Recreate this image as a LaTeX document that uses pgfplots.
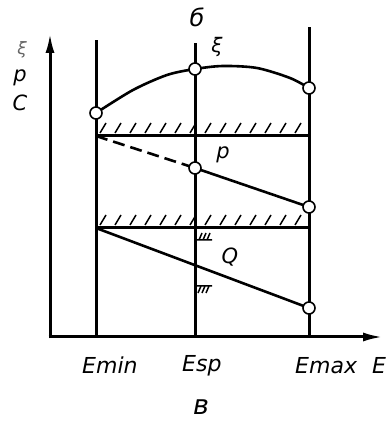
\documentclass[border=0pt]{standalone}
\usepackage{fontspec}
\setmainfont{DejaVu Sans}
\usepackage{pgfplots}
\pgfplotsset{compat=1.18}
\usetikzlibrary{arrows.meta}
\begin{document}
\begin{tikzpicture}
\begin{axis}[hide axis, scale only axis, width=390pt, height=425pt,
  xmin=0, xmax=390, ymin=0, ymax=425, clip=false, unbounded coords=jump]
\addplot[draw=none] coordinates {(0,0) (390,425)};
% axes
\addplot[line width=3pt, -{Latex[length=20pt,width=9pt]}] coordinates {(50,86.5) (50,392)};
\addplot[line width=3pt, -{Latex[length=20pt,width=9pt]}] coordinates {(48.5,88) (383,88)};
% verticals
\addplot[line width=3pt] coordinates {(96,88) (96,385)};
\addplot[line width=3pt] coordinates {(195,88) (195,382)};
\addplot[line width=3pt] coordinates {(309,88) (309,398)};
% horizontals
\addplot[line width=3pt] coordinates {(96,289) (309,289)};
\addplot[line width=3pt] coordinates {(96,197) (309,197)};
% hatches
\addplot[line width=1.5pt] coordinates {
(100,292)(106,302)(0,nan)(115,292)(121,302)(0,nan)(130,292)(136,302)(0,nan)
(145,292)(151,302)(0,nan)(160,292)(166,302)(0,nan)(175,292)(181,302)(0,nan)
(190,292)(196,302)(0,nan)(205,292)(211,302)(0,nan)(220,292)(226,302)(0,nan)
(235,292)(241,302)(0,nan)(250,292)(256,302)(0,nan)(265,292)(271,302)(0,nan)
(280,292)(286,302)(0,nan)(295,292)(301,302)};
\addplot[line width=1.5pt] coordinates {
(100,200)(106,210)(0,nan)(115,200)(121,210)(0,nan)(130,200)(136,210)(0,nan)
(145,200)(151,210)(0,nan)(160,200)(166,210)(0,nan)(175,200)(181,210)(0,nan)
(190,200)(196,210)(0,nan)(205,200)(211,210)(0,nan)(220,200)(226,210)(0,nan)
(235,200)(241,210)(0,nan)(250,200)(256,210)(0,nan)(265,200)(271,210)(0,nan)
(280,200)(286,210)(0,nan)(295,200)(301,210)};
% small marks on E_sp
\addplot[line width=1.5pt] coordinates {(197,185)(212,185)(0,nan)
(199,185)(202,192)(0,nan)(203,185)(206,192)(0,nan)(207,185)(210,192)};
\addplot[line width=1.5pt] coordinates {(197,139)(212,139)(0,nan)
(201,139)(198,132)(0,nan)(205,139)(202,132)(0,nan)(209,139)(206,132)};
% h curve
\addplot[line width=2.6pt, smooth] coordinates {(96,312)(133,335)(167,350)(195,356)(223,359)(257,357)(290,347)(309,337)};
% p line
\addplot[line width=2.6pt, dash pattern=on 12pt off 6pt] coordinates {(96,289)(195,257)};
\addplot[line width=2.6pt] coordinates {(195,257)(309,218)};
% Q line
\addplot[line width=2.6pt] coordinates {(96,197)(309,117)};
% circles
\addplot[only marks, mark=*, mark size=6pt, mark options={fill=white, draw=black, line width=1.6pt}]
  coordinates {(96,312)(195,356)(309,337)(195,257)(309,218)(309,117)};
% labels
\node[font=\fontsize{24}{27}\selectfont\itshape, inner sep=0pt] at (axis cs:197,408) {б};
\node[font=\fontsize{20}{22}\selectfont\itshape, inner sep=0pt] at (axis cs:217,378) {ξ};
\node[font=\fontsize{21}{24}\selectfont\itshape, inner sep=0pt] at (axis cs:223,270) {p};
\node[font=\fontsize{21}{24}\selectfont\itshape, inner sep=0pt] at (axis cs:230,168) {Q};
\node[font=\fontsize{17}{20}\selectfont\itshape, inner sep=0pt, text=black!60] at (axis cs:22,375) {ξ};
\node[font=\fontsize{21}{24}\selectfont\itshape, inner sep=0pt] at (axis cs:20,347) {p};
\node[font=\fontsize{21}{24}\selectfont\itshape, inner sep=0pt] at (axis cs:20,322) {C};
\node[font=\fontsize{22}{24}\selectfont\itshape, inner sep=0pt, anchor=base west] at (axis cs:82,51) {Emin};
\node[font=\fontsize{22}{24}\selectfont\itshape, inner sep=0pt, anchor=base west] at (axis cs:182,53) {Esp};
\node[font=\fontsize{22}{24}\selectfont\itshape, inner sep=0pt, anchor=base west] at (axis cs:295,51) {Emax};
\node[font=\fontsize{22}{24}\selectfont\itshape, inner sep=0pt, anchor=base west] at (axis cs:372,51) {E};
\node[font=\fontsize{27}{30}\selectfont\itshape, inner sep=0pt] at (axis cs:201,18) {в};
\end{axis}
\end{tikzpicture}
\end{document}
